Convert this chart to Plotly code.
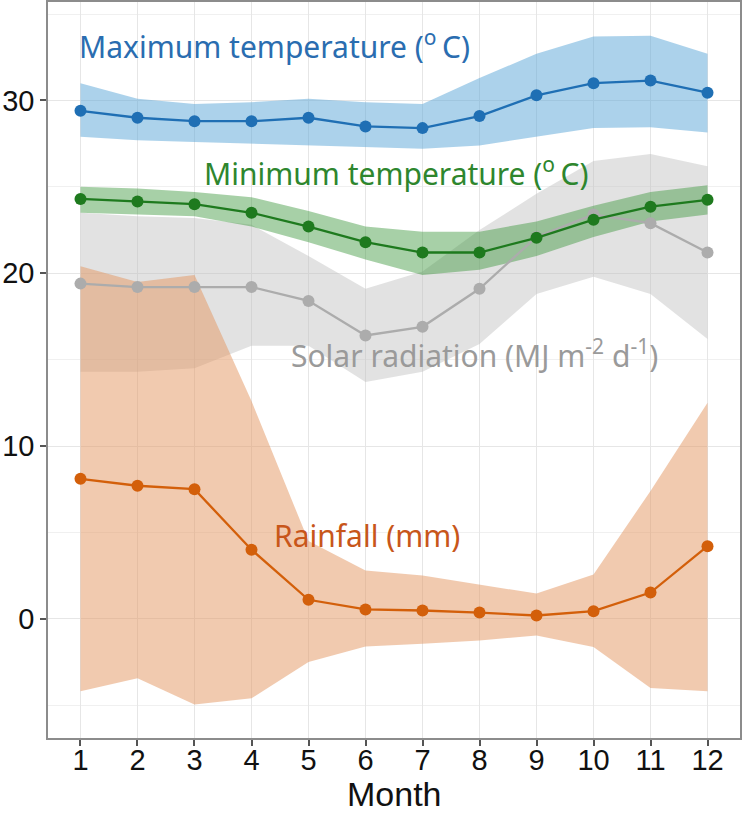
import plotly.graph_objects as go

months = list(range(1, 13))

tmax = [29.4, 29.0, 28.8, 28.8, 29.0, 28.5, 28.4, 29.1, 30.3, 31.0, 31.15, 30.45]
tmax_hi = [31.0, 30.1, 29.8, 29.9, 30.1, 29.9, 29.8, 31.3, 32.7, 33.7, 33.75, 32.7]
tmax_lo = [27.9, 27.7, 27.6, 27.5, 27.4, 27.3, 27.2, 27.4, 27.9, 28.4, 28.45, 28.15]

tmin = [24.3, 24.15, 24.0, 23.5, 22.7, 21.8, 21.2, 21.2, 22.05, 23.1, 23.85, 24.25]
tmin_hi = [25.0, 24.9, 24.7, 24.4, 23.6, 22.7, 22.4, 22.4, 23.0, 23.9, 24.7, 25.1]
tmin_lo = [23.5, 23.4, 23.3, 22.7, 21.8, 20.8, 19.9, 20.2, 21.0, 22.1, 23.0, 23.4]

solar = [19.4, 19.2, 19.2, 19.2, 18.4, 16.4, 16.9, 19.1, 22.1, 23.4, 22.9, 21.2]
solar_hi = [23.5, 23.3, 23.2, 22.8, 21.0, 19.1, 20.1, 22.5, 24.6, 26.5, 26.9, 26.2]
solar_lo = [14.3, 14.3, 14.5, 15.8, 15.8, 13.7, 14.3, 15.9, 18.8, 19.8, 18.8, 16.2]

rain = [8.1, 7.7, 7.5, 4.0, 1.1, 0.54, 0.48, 0.36, 0.19, 0.44, 1.52, 4.2]
rain_hi = [20.4, 19.5, 19.9, 12.6, 4.5, 2.8, 2.5, 2.0, 1.46, 2.56, 7.4, 12.5]
rain_lo = [-4.2, -3.44, -4.96, -4.6, -2.5, -1.6, -1.45, -1.25, -0.97, -1.64, -4.0, -4.19]

series = [
    ("solar", solar, solar_lo, solar_hi, "#acacac", "rgba(190,190,190,0.45)"),
    ("rain", rain, rain_lo, rain_hi, "#d35f0a", "rgba(228,150,95,0.5)"),
    ("tmin", tmin, tmin_lo, tmin_hi, "#1e7a1e", "rgba(60,150,60,0.45)"),
    ("tmax", tmax, tmax_lo, tmax_hi, "#1f6fb4", "rgba(90,165,215,0.5)"),
]

fig = go.Figure()
for name, mid, lo, hi, lc, fc in series:
    fig.add_trace(go.Scatter(x=months, y=lo, mode="lines", line=dict(width=0),
                             showlegend=False, hoverinfo="skip"))
    fig.add_trace(go.Scatter(x=months, y=hi, mode="lines", line=dict(width=0),
                             fill="tonexty", fillcolor=fc, showlegend=False,
                             hoverinfo="skip"))
for name, mid, lo, hi, lc, fc in series:
    fig.add_trace(go.Scatter(x=months, y=mid, mode="lines+markers",
                             line=dict(color=lc, width=2.3),
                             marker=dict(color=lc, size=12),
                             showlegend=False, name=name))

font_fam = "Noto Sans"
labels = [
    ("Maximum temperature (<sup>o </sup>C)", 0.93, 33.2, "#2a6db0"),
    ("Minimum temperature (<sup>o </sup>C)", 3.13, 25.85, "#2e862e"),
    ("Solar radiation (MJ m<sup>-2</sup> d<sup>-1</sup>)", 4.66, 15.3, "#9a9a9a"),
    ("Rainfall (mm)", 4.36, 4.8, "#c8561a"),
]
for txt, x, y, c in labels:
    fig.add_annotation(x=x, y=y, text=txt, showarrow=False, xanchor="left",
                       yanchor="middle", font=dict(family=font_fam, size=30, color=c))

fig.add_annotation(xref="paper", yref="paper", x=0.5, y=-77 / 736, text="Month",
                   showarrow=False, xanchor="center", yanchor="bottom",
                   font=dict(family="Liberation Sans", size=34, color="#111111"))

axis_common = dict(
    showline=True, linecolor="#8c8c8c", linewidth=1.5, mirror=True,
    gridcolor="#e6e6e6", gridwidth=1, zeroline=False,
    ticks="outside", ticklen=6, tickcolor="#555555", tickwidth=1.5,
    tickfont=dict(family="Liberation Sans", size=29, color="#111111"),
    automargin=False,
)

fig.update_xaxes(range=[0.43, 12.57], tickvals=months, ticktext=[str(m) for m in months],
                 ticklabelstandoff=-11, **axis_common)
fig.update_yaxes(range=[-6.9, 35.7], tickvals=[0, 10, 20, 30],
                 minor=dict(tickvals=[-5, 5, 15, 25, 35], gridcolor="#f0f0f0", showgrid=True, ticks=""),
                 **axis_common)

fig.update_layout(
    width=744, height=815,
    margin=dict(l=48, r=4, t=2, b=77),
    plot_bgcolor="white", paper_bgcolor="white",
    showlegend=False,
)

fig.write_html("out.html")
